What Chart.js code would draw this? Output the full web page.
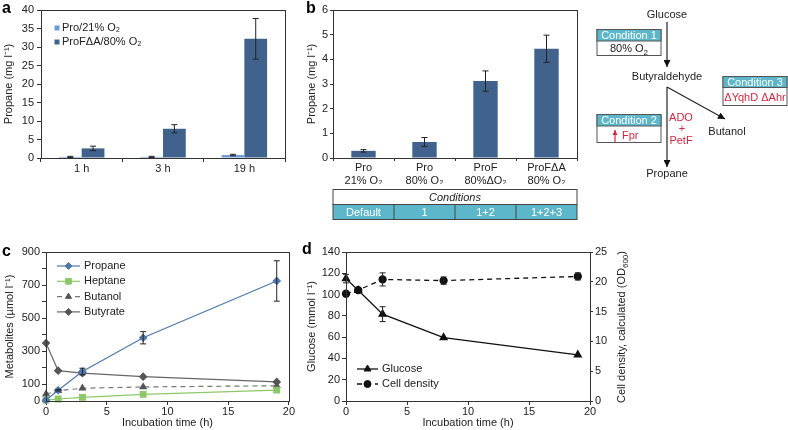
<!DOCTYPE html>
<html>
<head>
<meta charset="utf-8">
<script src="https://cdn.jsdelivr.net/npm/chart.js@4.4.1/dist/chart.umd.min.js"></script>
<style>
html, body { margin: 0; padding: 0; background: #fff; }
#page { position: relative; width: 788px; height: 430px; overflow: hidden; }
canvas { position: absolute; }
#overlay { position: absolute; left: 0; top: 0; pointer-events: none; }
</style>
</head>
<body>
<div id="page">
<canvas id="chartA" width="290" height="180" style="left:0;top:0"></canvas>
<canvas id="chartB" width="290" height="184" style="left:290px;top:0"></canvas>
<canvas id="chartC" width="295" height="190" style="left:0;top:240px"></canvas>
<canvas id="chartD" width="340" height="190" style="left:300px;top:240px"></canvas>

<svg id="overlay" width="788" height="430" font-family="Liberation Sans, Arial, sans-serif" font-size="11" fill="#222">
  <defs>
    <marker id="head" viewBox="0 0 10 10" refX="10" refY="5" markerWidth="9" markerHeight="7" markerUnits="userSpaceOnUse" orient="auto">
      <path d="M0,0 L10,5 L0,10 z" fill="#111"/>
    </marker>
    <marker id="redHead" viewBox="0 0 10 10" refX="10" refY="5" markerWidth="5" markerHeight="5" markerUnits="userSpaceOnUse" orient="auto">
      <path d="M0,0 L10,5 L0,10 z" fill="#d7263d"/>
    </marker>
  </defs>

  <!-- panel letters -->
  <text x="2" y="13" font-size="16" font-weight="bold" fill="#000">a</text>
  <text x="306" y="13" font-size="16" font-weight="bold" fill="#000">b</text>
  <text x="2" y="256" font-size="16" font-weight="bold" fill="#000">c</text>
  <text x="302" y="254" font-size="16" font-weight="bold" fill="#000">d</text>

  <!-- pathway sketch -->
  <text x="667" y="18" text-anchor="middle">Glucose</text>
  <line x1="667" y1="22" x2="667" y2="67" stroke="#222" stroke-width="1.2" marker-end="url(#head)"/>
  <text x="667" y="80" text-anchor="middle">Butyraldehyde</text>
  <line x1="667" y1="87" x2="667" y2="167" stroke="#222" stroke-width="1.2" marker-end="url(#head)"/>
  <line x1="667" y1="87" x2="725" y2="119" stroke="#222" stroke-width="1.2" marker-end="url(#head)"/>
  <text x="667" y="177" text-anchor="middle">Propane</text>
  <text x="727" y="135" text-anchor="middle">Butanol</text>
  <text x="681" y="121" text-anchor="middle" fill="#d7263d">ADO</text>
  <text x="682" y="132" text-anchor="middle" fill="#d7263d">+</text>
  <text x="681" y="144" text-anchor="middle" fill="#d7263d">PetF</text>

  <!-- condition 1 -->
  <rect x="597" y="29.5" width="64" height="26" fill="#fff" stroke="#555"/>
  <rect x="597" y="29.5" width="64" height="11.5" fill="#5db7ca" stroke="#555"/>
  <text x="629" y="39" text-anchor="middle" fill="#fff">Condition 1</text>
  <text x="629" y="52" text-anchor="middle">80% O<tspan font-size="8" dy="3">2</tspan></text>

  <!-- condition 3 -->
  <rect x="723" y="76.5" width="64" height="29" fill="#fff" stroke="#555"/>
  <rect x="723" y="76.5" width="64" height="11" fill="#5db7ca" stroke="#555"/>
  <text x="755" y="86" text-anchor="middle" fill="#fff">Condition 3</text>
  <text x="755" y="101" text-anchor="middle" fill="#d7263d">ΔYqhD ΔAhr</text>

  <!-- condition 2 -->
  <rect x="597" y="114.5" width="64" height="28" fill="#fff" stroke="#555"/>
  <rect x="597" y="114.5" width="64" height="11.5" fill="#5db7ca" stroke="#555"/>
  <text x="629" y="124" text-anchor="middle" fill="#fff">Condition 2</text>
  <line x1="615" y1="142" x2="615" y2="130" stroke="#d7263d" stroke-width="1.2" marker-end="url(#redHead)"/>
  <text x="622" y="139" fill="#d7263d">Fpr</text>

  <!-- right axis title of panel d -->
  <text transform="translate(625,327) rotate(-90)" text-anchor="middle">Cell density, calculated (OD<tspan font-size="8" dy="3">600</tspan><tspan dy="-3">)</tspan></text>

  <g id="condTable"></g>
</svg>
</div>

<script>
// ---- panel a : propane over time
const timeLabels = ['1 h', '3 h', '19 h'];
const pro21 = [0.3, 0.3, 0.8];
const pro21Err = [0.15, 0.15, 0.2];
const profa80 = [2.6, 7.9, 32.2];
const profa80Err = [0.6, 1.1, 5.5];

// ---- panel b : propane per strain / condition
const strainLabels = [['Pro', '21% O₂'], ['Pro', '80% O₂'], ['ProF', '80%ΔO₂'], ['ProFΔA', '80% O₂']];
const propaneB = [0.29, 0.65, 3.12, 4.43];
const propaneBErr = [0.05, 0.18, 0.41, 0.55];
const conditionCells = ['Default', '1', '1+2', '1+2+3'];

// ---- panel c : metabolites
const hoursC = [0, 1, 3, 8, 19];
const propaneC = [5, 65, 178, 382, 725];
const propaneCErr = [0, 5, 20, 37, 122];
const heptaneC = [5, 12, 22, 40, 66];
const butanolC = [42, 62, 77, 85, 92];
const butyrateC = [350, 183, 168, 147, 115];
const metaboliteTickLabels = [0, 100, 300, 500, 700, 900];

// ---- panel d : glucose and cell density
const hoursD = [0, 1, 3, 8, 19];
const glucoseD = [115, 104, 81.6, 59.6, 43.3];
const glucoseDErr = [4, 0, 7, 0, 0];
const cellDensityD = [18.0, 18.6, 20.4, 20.2, 20.9];
const cellDensityDErr = [0, 0, 1.1, 0.6, 0.6];

const FONT = '"Liberation Sans", Arial, sans-serif';
Chart.defaults.font.family = FONT;
Chart.defaults.font.size = 11;
Chart.defaults.color = '#222';

const DARK = '#42628e';
const LIGHT = '#6d9bd3';

// box around the plot area
const framePlugin = {
  id: 'frame',
  afterDraw(chart) {
    const { ctx, chartArea: a } = chart;
    ctx.save();
    ctx.strokeStyle = '#333';
    ctx.lineWidth = 1;
    ctx.strokeRect(Math.round(a.left) + 0.5, Math.round(a.top) + 0.5,
      Math.round(a.right - a.left), Math.round(a.bottom - a.top));
    ctx.restore();
  }
};

// error bars, read from ds.errors
const errorBarPlugin = {
  id: 'errorBars',
  afterDatasetsDraw(chart) {
    const ctx = chart.ctx;
    chart.data.datasets.forEach((ds, i) => {
      if (!ds.errors) return;
      const meta = chart.getDatasetMeta(i);
      const yScale = chart.scales[meta.yAxisID];
      ctx.save();
      ctx.strokeStyle = '#222';
      ctx.lineWidth = 1;
      ds.errors.forEach((e, j) => {
        if (!e) return;
        const el = meta.data[j];
        const v = ds.data[j];
        const val = typeof v === 'object' ? v.y : v;
        const yTop = yScale.getPixelForValue(val + e);
        const yBot = yScale.getPixelForValue(val - e);
        ctx.beginPath();
        ctx.moveTo(el.x, yTop); ctx.lineTo(el.x, yBot);
        ctx.moveTo(el.x - 3, yTop); ctx.lineTo(el.x + 3, yTop);
        ctx.moveTo(el.x - 3, yBot); ctx.lineTo(el.x + 3, yBot);
        ctx.stroke();
      });
      ctx.restore();
    });
  }
};

// small legend drawn inside the plot
const keyPlugin = {
  id: 'key',
  afterDraw(chart, args, opts) {
    if (!opts || opts.x === undefined) return;
    const ctx = chart.ctx;
    ctx.save();
    ctx.font = '11px ' + FONT;
    ctx.textBaseline = 'middle';
    chart.data.datasets.forEach((ds, i) => {
      const y = opts.y + i * opts.step;
      if (opts.kind === 'box') {
        ctx.fillStyle = ds.backgroundColor;
        ctx.fillRect(opts.x - 2.5, y - 2.5, 5, 5);
        ctx.fillStyle = '#222';
        ctx.fillText(ds.label, opts.x + 5, y);
      } else {
        ctx.strokeStyle = ds.borderColor;
        ctx.lineWidth = ds.borderWidth;
        ctx.setLineDash(ds.borderDash || []);
        ctx.beginPath();
        ctx.moveTo(opts.x, y);
        ctx.lineTo(opts.x + opts.len, y);
        ctx.stroke();
        ctx.setLineDash([]);
        ctx.fillStyle = ds.pointBackgroundColor;
        ctx.strokeStyle = ds.pointBorderColor;
        ctx.lineWidth = 1;
        Chart.helpers.drawPoint(ctx, { pointStyle: ds.pointStyle, radius: ds.pointRadius, rotation: 0, borderWidth: 1 },
          opts.x + opts.len / 2, y);
        ctx.fillStyle = '#222';
        ctx.fillText(ds.label, opts.x + opts.len + 4, y);
      }
    });
    ctx.restore();
  }
};

function yAxis(o) {
  const ticks = { stepSize: o.step, padding: o.tickPad, color: '#222', font: { size: 11 } };
  if (o.callback) ticks.callback = o.callback;
  return {
    position: o.position || 'left',
    min: o.min, max: o.max,
    border: { color: '#333' },
    grid: { drawOnChartArea: false, tickLength: o.tickLen, color: '#333' },
    ticks: ticks,
    title: { display: !!o.title, text: o.title, color: '#222', font: { size: 11 }, padding: { top: o.titlePad || 0, bottom: 0 } },
    afterFit: s => { s.width = o.width; }
  };
}

function baseOptions(padding, scales, key) {
  return {
    responsive: false,
    animation: false,
    events: [],
    devicePixelRatio: 1,
    layout: { padding: padding, autoPadding: false },
    scales: scales,
    plugins: { legend: { display: false }, tooltip: { enabled: false }, key: key || {} }
  };
}

// ---------- panel a
new Chart(document.getElementById('chartA'), {
  type: 'bar',
  data: {
    labels: timeLabels,
    datasets: [
      { label: 'Pro/21% O₂', data: pro21, errors: pro21Err, backgroundColor: LIGHT, categoryPercentage: 0.56, barPercentage: 1 },
      { label: 'ProFΔA/80% O₂', data: profa80, errors: profa80Err, backgroundColor: DARK, categoryPercentage: 0.56, barPercentage: 1 }
    ]
  },
  options: baseOptions({ left: 0, top: 10, right: 5, bottom: 0 }, {
    x: {
      border: { color: '#333' },
      grid: { offset: true, drawOnChartArea: false, tickLength: 4, color: '#333' },
      ticks: { padding: 0, color: '#222' },
      afterFit: s => { s.height = 22; }
    },
    y: yAxis({ min: 0, max: 40, step: 5, width: 41, tickLen: 4, tickPad: 3, title: 'Propane (mg l⁻¹)', titlePad: 2 })
  }, { kind: 'box', x: 57, y: 28, step: 14 }),
  plugins: [errorBarPlugin, keyPlugin, framePlugin]
});

// ---------- panel b
const chartB = new Chart(document.getElementById('chartB'), {
  type: 'bar',
  data: {
    labels: strainLabels,
    datasets: [
      { label: 'Propane', data: propaneB, errors: propaneBErr, backgroundColor: DARK, categoryPercentage: 1, barPercentage: 0.4 }
    ]
  },
  options: baseOptions({ left: 0, top: 10, right: 3, bottom: 0 }, {
    x: {
      border: { color: '#333' },
      grid: { offset: true, drawOnChartArea: false, tickLength: 3, color: '#333' },
      ticks: { padding: 0, color: '#222' },
      afterFit: s => { s.height = 26; }
    },
    y: yAxis({ min: 0, max: 6, step: 1, width: 43, tickLen: 3, tickPad: 2, title: 'Propane (mg l⁻¹)', titlePad: 15 })
  }),
  plugins: [errorBarPlugin, framePlugin]
});

// ---------- panel c
function points(xs, ys) {
  return xs.map((x, i) => ({ x: x, y: ys[i] }));
}

new Chart(document.getElementById('chartC'), {
  type: 'line',
  data: {
    datasets: [
      { label: 'Propane', data: points(hoursC, propaneC), errors: propaneCErr, borderColor: '#4f78ad', borderWidth: 1.2,
        pointStyle: 'rectRot', pointRadius: 3.5, pointBackgroundColor: '#4f78ad', pointBorderColor: '#4f78ad' },
      { label: 'Heptane', data: points(hoursC, heptaneC), borderColor: '#8dc868', borderWidth: 1.2,
        pointStyle: 'rect', pointRadius: 4, pointBackgroundColor: '#8dc868', pointBorderColor: '#8dc868' },
      { label: 'Butanol', data: points(hoursC, butanolC), borderColor: '#777', borderWidth: 1.2, borderDash: [5, 4],
        pointStyle: 'triangle', pointRadius: 3.5, pointBackgroundColor: '#555', pointBorderColor: '#555' },
      { label: 'Butyrate', data: points(hoursC, butyrateC), borderColor: '#666', borderWidth: 1.2,
        pointStyle: 'rectRot', pointRadius: 3.5, pointBackgroundColor: '#555', pointBorderColor: '#555' }
    ].map(d => Object.assign(d, { tension: 0, clip: false }))
  },
  options: baseOptions({ left: 0, top: 12, right: 5, bottom: 0 }, {
    x: {
      type: 'linear', min: 0, max: 20,
      border: { color: '#333' },
      grid: { drawOnChartArea: false, tickLength: 4, color: '#333' },
      ticks: { stepSize: 5, padding: 0, color: '#222' },
      title: { display: true, text: 'Incubation time (h)', color: '#222', padding: { top: 0, bottom: 0 } },
      afterFit: s => { s.height = 29; }
    },
    y: yAxis({ min: 0, max: 900, step: 100, width: 46, tickLen: 4, tickPad: 2, title: 'Metabolites (µmol l⁻¹)', titlePad: 3,
      callback: v => metaboliteTickLabels.includes(v) ? v : '' })
  }, { kind: 'line', x: 57, y: 26, step: 15.3, len: 23 }),
  plugins: [errorBarPlugin, keyPlugin, framePlugin]
});

// ---------- panel d
new Chart(document.getElementById('chartD'), {
  type: 'line',
  data: {
    datasets: [
      { label: 'Glucose', data: points(hoursD, glucoseD), errors: glucoseDErr, yAxisID: 'y', borderColor: '#111', borderWidth: 1.3,
        pointStyle: 'triangle', pointRadius: 4, pointBackgroundColor: '#111', pointBorderColor: '#111' },
      { label: 'Cell density', data: points(hoursD, cellDensityD), errors: cellDensityDErr, yAxisID: 'y1', borderColor: '#111', borderWidth: 1.3,
        borderDash: [5, 4], pointStyle: 'circle', pointRadius: 3.5, pointBackgroundColor: '#111', pointBorderColor: '#111' }
    ].map(d => Object.assign(d, { tension: 0, clip: false }))
  },
  options: baseOptions({ left: 0, top: 12, right: 0, bottom: 0 }, {
    x: {
      type: 'linear', min: 0, max: 20,
      border: { color: '#333' },
      grid: { drawOnChartArea: false, tickLength: 4, color: '#333' },
      ticks: { stepSize: 5, padding: 0, color: '#222' },
      title: { display: true, text: 'Incubation time (h)', color: '#222', padding: { top: 0, bottom: 0 } },
      afterFit: s => { s.height = 29; }
    },
    y: yAxis({ min: 0, max: 140, step: 20, width: 46, tickLen: 4, tickPad: 2, title: 'Glucose (mmol l⁻¹)', titlePad: 5 }),
    y1: yAxis({ position: 'right', min: 0, max: 25, step: 5, width: 50, tickLen: 3, tickPad: 2 })
  }, { kind: 'line', x: 57, y: 129, step: 15, len: 21 }),
  plugins: [errorBarPlugin, keyPlugin, framePlugin]
});

// ---------- conditions table under panel b, aligned on its category scale
(function drawTable() {
  const g = document.getElementById('condTable');
  const ns = 'http://www.w3.org/2000/svg';
  const xs = chartB.scales.x;
  const offset = 290; // canvas B left on the page
  const left = offset + xs.left, right = offset + xs.right;
  const top = 189.5, mid = 204.5, bottom = 219.5;
  const cellW = (xs.right - xs.left) / conditionCells.length;

  function el(name, attrs, text) {
    const e = document.createElementNS(ns, name);
    for (const k in attrs) e.setAttribute(k, attrs[k]);
    if (text) e.textContent = text;
    g.appendChild(e);
    return e;
  }

  el('rect', { x: left, y: top, width: right - left, height: mid - top, fill: '#fff', stroke: '#444' });
  el('rect', { x: left, y: mid, width: right - left, height: bottom - mid, fill: '#5db7ca', stroke: '#444' });
  el('text', { x: (left + right) / 2, y: 201, 'text-anchor': 'middle', 'font-style': 'italic' }, 'Conditions');
  conditionCells.forEach((c, i) => {
    const cx = offset + xs.getPixelForValue(i);
    if (i > 0) el('line', { x1: cx - cellW / 2, y1: mid, x2: cx - cellW / 2, y2: bottom, stroke: '#444' });
    el('text', { x: cx, y: 216, 'text-anchor': 'middle', fill: '#fff' }, c);
  });
})();
</script>
</body>
</html>
